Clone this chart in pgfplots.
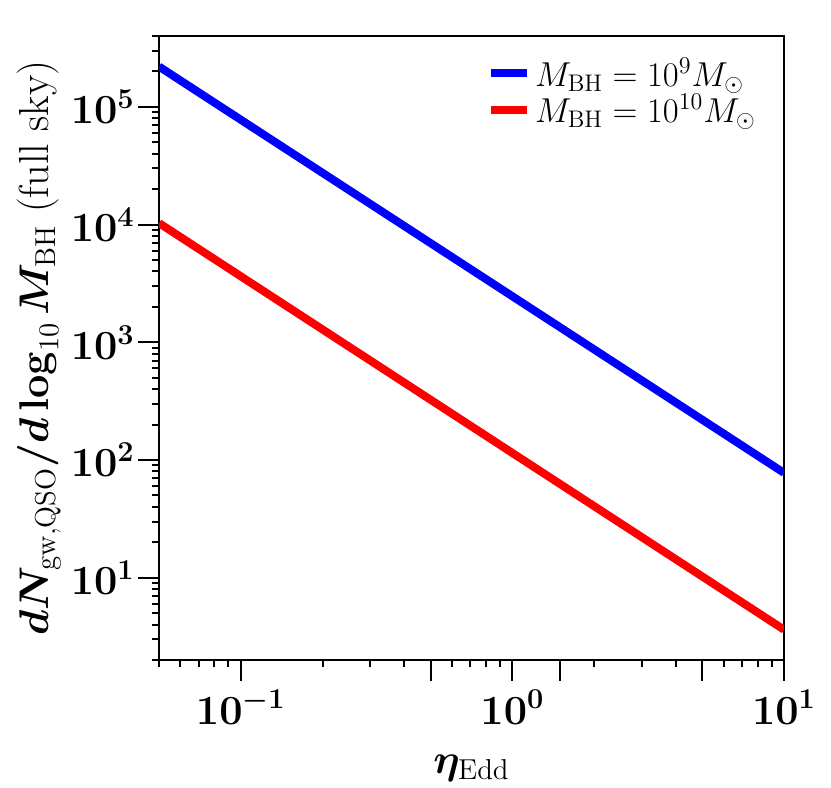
\documentclass[border=0pt]{standalone}
\usepackage{amsmath}
\usepackage{bm}
\usepackage{pgfplots}
\pgfplotsset{compat=1.18}
\definecolor{pblue}{RGB}{0,0,255}
\definecolor{pred}{RGB}{255,0,0}
\begin{document}
\begin{tikzpicture}
\begin{axis}[
  scale only axis,
  width=312.5pt, height=312pt,
  xmode=log, ymode=log,
  xmin=0.05, xmax=10,
  ymin=2, ymax=4e5,
  axis line style={line width=1pt},
  tick align=outside,
  xtick pos=lower, ytick pos=left,
  major tick length=10.5pt,
  minor tick length=3.5pt,
  every tick/.style={black, line width=1pt},
  xtick={0.1,0.5,1,1.5,5,10},
  xticklabels={$10^{-1}$,,$10^{0}$,,,$10^{1}$},
  minor xtick={0.05,0.06,0.07,0.08,0.09,0.2,0.3,0.4,0.6,0.7,0.8,0.9,2,3,4,6,7,8,9},
  ytick={10,100,1000,10000,100000},
  minor ytick={2,3,4,5,6,7,8,9,20,30,40,50,60,70,80,90,200,300,400,500,600,700,800,900,2000,3000,4000,5000,6000,7000,8000,9000,20000,30000,40000,50000,60000,70000,80000,90000,200000,300000,400000},
  xticklabel style={font=\boldmath\fontsize{20.5}{24}\selectfont, inner sep=1.5pt, yshift=-3pt},
  yticklabel style={font=\boldmath\fontsize{21}{25}\selectfont, inner sep=1.5pt},
  xlabel={$\bm{\eta}_{\mathrm{Edd}}$},
  ylabel={$\bm{dN}_{\mathrm{gw,QSO}}\bm{/d}\,\mathbf{log}_{10}\,\bm{M}_{\mathrm{BH}}$ (full sky)},
  label style={font=\fontsize{21}{25}\selectfont},
  xlabel style={yshift=-10.5pt},
  legend style={at={(0.965,0.975)}, anchor=north east, draw=none, fill=none,
    font=\fontsize{17}{18}\selectfont, inner sep=1pt, row sep=-1.5pt},
  legend cell align=left,
  legend image code/.code={\draw[#1] (0pt,0pt) -- (18pt,0pt);},
]
\addplot[pblue, line width=4pt] coordinates {(0.05,2.2e5) (10,77.8)};
\addlegendentry{$M_{\mathrm{BH}}=10^{9}M_{\odot}$}
\addplot[pred, line width=4pt] coordinates {(0.05,1.03e4) (10,3.62)};
\addlegendentry{$M_{\mathrm{BH}}=10^{10}M_{\odot}$}
\coordinate (sw) at (rel axis cs:0,0);
\coordinate (ne) at (rel axis cs:1,1);
\end{axis}
\pgfresetboundingbox
\path ([shift={(-79.5pt,-64pt)}]sw) rectangle ([shift={(23.5pt,18pt)}]ne);
\end{tikzpicture}
\end{document}
